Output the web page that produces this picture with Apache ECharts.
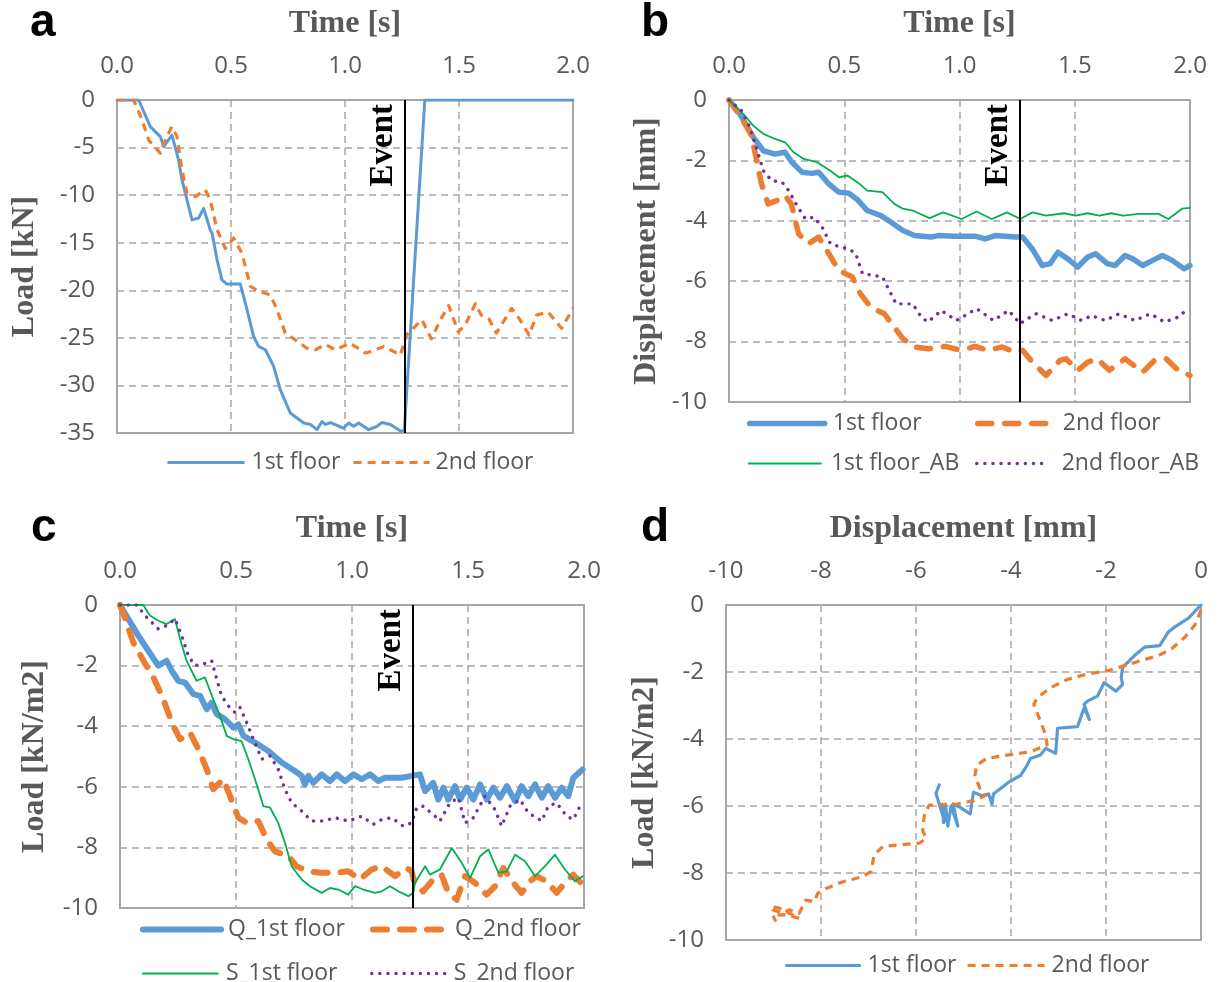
<!DOCTYPE html>
<html><head><meta charset="utf-8">
<script src="https://cdn.jsdelivr.net/npm/echarts/dist/echarts.min.js"></script>
<style>html,body{margin:0;padding:0;background:#fff}#c{width:1218px;height:982px}</style>
</head><body><div id="c"></div>
<script>
// ---------- Panel a: Load [kN] vs time ----------
const aT1 = [0,0.095,0.146,0.19,0.205,0.241,0.27,0.285,0.329,0.358,0.38,0.409,0.417,0.439,0.46,0.482,0.541,0.563,0.599,0.621,0.651,0.687,0.716,0.76,0.819,0.848,0.877,0.899,0.914,0.936,0.994,1.016,1.038,1.06,1.104,1.14,1.162,1.199,1.243,1.26,1.35,2.0];
const aL1 = [0,0,-2.8,-3.85,-4.9,-3.7,-6.3,-8.4,-12.6,-12.4,-11.4,-13.65,-14,-16.8,-18.9,-19.35,-19.35,-21.35,-24.85,-25.9,-26.25,-28,-30.45,-32.9,-33.95,-34.1,-34.65,-33.8,-34.1,-33.9,-34.5,-33.95,-34.3,-33.95,-34.65,-34.3,-33.9,-34.1,-34.8,-34.8,0,0];
const aT2 = [0,0.073,0.11,0.139,0.19,0.205,0.241,0.263,0.285,0.307,0.344,0.387,0.409,0.439,0.475,0.512,0.548,0.585,0.621,0.673,0.702,0.738,0.782,0.833,0.87,0.914,0.958,1.023,1.089,1.118,1.17,1.243,1.27,1.337,1.379,1.421,1.455,1.497,1.53,1.572,1.597,1.631,1.664,1.731,1.765,1.807,1.841,1.891,1.95,2.0];
const aL2 = [0,0,-2.1,-4.2,-5.6,-4.55,-2.8,-3.85,-7.35,-9.8,-10.15,-9.45,-10.5,-13.65,-15.6,-14.5,-16.1,-19.6,-20.1,-20.5,-22.05,-24.5,-25.2,-26.1,-26.25,-25.7,-26.25,-25.55,-26.6,-26.4,-25.9,-26.8,-24.7,-23.1,-25.1,-23.0,-21.6,-24.4,-23.5,-21.4,-22.6,-23.0,-24.5,-21.9,-23.0,-24.7,-22.6,-22.3,-24.0,-21.9];

// ---------- Panel b: Displacement [mm] vs time ----------
const bT1 = [0,0.047,0.105,0.149,0.2,0.243,0.273,0.316,0.36,0.389,0.433,0.476,0.52,0.557,0.6,0.659,0.703,0.754,0.805,0.878,0.907,0.98,1.067,1.111,1.155,1.242,1.274,1.316,1.359,1.393,1.427,1.47,1.513,1.556,1.59,1.641,1.675,1.718,1.752,1.795,1.838,1.88,1.923,1.974,2.0];
const bD1 = [0,-0.46,-1.23,-1.68,-1.79,-1.73,-2.06,-2.39,-2.43,-2.39,-2.78,-3.05,-3.09,-3.3,-3.66,-3.83,-4.05,-4.32,-4.49,-4.54,-4.49,-4.51,-4.51,-4.6,-4.49,-4.54,-4.54,-4.93,-5.48,-5.42,-5.04,-5.26,-5.53,-5.2,-5.09,-5.42,-5.48,-5.15,-5.26,-5.48,-5.31,-5.15,-5.31,-5.59,-5.48];
const bT2 = [0,0.061,0.098,0.12,0.141,0.17,0.207,0.243,0.27,0.302,0.345,0.389,0.433,0.476,0.535,0.57,0.615,0.674,0.717,0.754,0.805,0.863,0.936,1.009,1.067,1.125,1.184,1.242,1.274,1.316,1.376,1.436,1.462,1.513,1.556,1.598,1.65,1.718,1.795,1.846,1.897,1.949,2.0];
const bD2 = [0,-0.68,-1.18,-2.0,-2.78,-3.44,-3.33,-3.16,-3.44,-4.43,-4.76,-4.54,-5.09,-5.64,-5.86,-6.41,-6.86,-7.08,-7.52,-7.9,-8.18,-8.24,-8.16,-8.29,-8.16,-8.29,-8.18,-8.35,-8.29,-8.68,-9.12,-8.62,-8.57,-8.95,-8.68,-8.57,-8.95,-8.57,-9.01,-8.62,-8.57,-8.95,-9.12];
const bT3 = [0,0.069,0.105,0.149,0.2,0.243,0.28,0.324,0.382,0.44,0.477,0.513,0.557,0.6,0.666,0.717,0.754,0.797,0.87,0.929,1.009,1.074,1.14,1.206,1.264,1.316,1.376,1.453,1.504,1.556,1.607,1.658,1.709,1.778,1.863,1.906,1.966,2.0];
const bD3 = [0,-0.52,-0.85,-1.12,-1.29,-1.4,-1.73,-1.95,-2.06,-2.34,-2.56,-2.5,-2.72,-3.0,-3.05,-3.44,-3.6,-3.66,-3.91,-3.72,-3.94,-3.69,-3.94,-3.72,-3.94,-3.72,-3.83,-3.75,-3.83,-3.75,-3.83,-3.75,-3.83,-3.77,-3.77,-3.94,-3.6,-3.57];
const bT4 = [0,0.054,0.09,0.12,0.149,0.185,0.23,0.259,0.295,0.332,0.368,0.404,0.44,0.484,0.52,0.55,0.579,0.63,0.666,0.695,0.725,0.797,0.834,0.863,0.921,0.987,1.074,1.147,1.213,1.264,1.282,1.333,1.402,1.47,1.53,1.573,1.632,1.692,1.76,1.829,1.889,1.949,1.991];
const bD4 = [0,-0.35,-0.9,-1.62,-2.34,-2.67,-2.72,-3.0,-3.5,-3.94,-3.88,-4.21,-4.76,-4.87,-4.93,-5.09,-5.75,-5.81,-5.86,-6.3,-6.75,-6.75,-7.19,-7.35,-6.97,-7.3,-6.91,-7.3,-6.97,-7.41,-7.3,-7.08,-7.3,-7.08,-7.3,-7.14,-7.3,-7.08,-7.3,-7.08,-7.35,-7.19,-6.91];

// ---------- Panel c: Load [kN/m2] vs time ----------
const cT1 = [0,0.036,0.079,0.122,0.165,0.201,0.223,0.251,0.28,0.316,0.345,0.374,0.395,0.417,0.453,0.489,0.51,0.532,0.582,0.639,0.697,0.754,0.783,0.797,0.812,0.833,0.869,0.905,0.934,0.97,1.006,1.042,1.078,1.114,1.142,1.214,1.257,1.293,1.315,1.35,1.372,1.394,1.415,1.444,1.466,1.494,1.523,1.552,1.581,1.609,1.638,1.667,1.703,1.731,1.76,1.789,1.818,1.846,1.875,1.904,1.932,1.954,1.994];
const cQ1 = [0,-0.46,-1.01,-1.51,-2.0,-1.84,-2.17,-2.5,-2.56,-2.94,-3.0,-3.44,-3.22,-3.6,-3.77,-4.05,-3.94,-4.32,-4.54,-4.82,-5.2,-5.48,-5.64,-5.92,-5.64,-5.87,-5.59,-5.81,-5.59,-5.81,-5.59,-5.75,-5.59,-5.81,-5.7,-5.7,-5.64,-5.59,-6.14,-5.87,-6.42,-6.03,-6.42,-5.98,-6.42,-6.03,-6.42,-5.92,-6.42,-6.03,-6.36,-5.98,-6.47,-5.98,-6.31,-5.92,-6.36,-5.98,-6.36,-6.03,-6.31,-5.7,-5.43];
const cT2 = [0,0.022,0.057,0.101,0.144,0.187,0.223,0.259,0.302,0.338,0.374,0.402,0.445,0.474,0.51,0.546,0.596,0.632,0.668,0.726,0.761,0.812,0.869,0.934,0.984,1.034,1.085,1.128,1.185,1.236,1.257,1.272,1.307,1.343,1.386,1.415,1.451,1.487,1.53,1.58,1.616,1.652,1.695,1.731,1.767,1.796,1.839,1.882,1.918,1.954,1.994];
const cQ2 = [0,-0.44,-1.23,-1.84,-2.39,-3.11,-3.88,-4.43,-4.21,-4.76,-5.42,-6.08,-5.75,-6.3,-7.02,-7.19,-7.13,-7.74,-8.13,-8.29,-8.62,-8.79,-8.84,-8.84,-8.79,-9.06,-8.73,-8.62,-8.95,-8.68,-8.79,-9.23,-9.45,-9.12,-8.9,-9.5,-9.73,-8.95,-9.17,-9.56,-9.29,-8.68,-9.17,-9.5,-9.12,-8.95,-9.12,-9.5,-9.17,-8.9,-9.23];
const cT3 = [0,0.1,0.129,0.165,0.201,0.237,0.259,0.287,0.33,0.366,0.402,0.431,0.46,0.489,0.524,0.553,0.582,0.618,0.647,0.682,0.711,0.74,0.783,0.819,0.869,0.905,0.941,0.984,1.013,1.049,1.099,1.128,1.164,1.2,1.243,1.264,1.272,1.315,1.336,1.379,1.43,1.473,1.509,1.552,1.588,1.631,1.667,1.703,1.746,1.789,1.832,1.875,1.918,1.961,1.994];
const cS1 = [0,0,-0.35,-0.52,-0.63,-0.46,-1.12,-1.84,-2.5,-2.39,-3.11,-3.66,-4.32,-4.43,-4.49,-5.09,-5.75,-6.64,-6.69,-7.19,-7.85,-8.62,-9.06,-9.28,-9.5,-9.34,-9.39,-9.56,-9.28,-9.39,-9.5,-9.45,-9.28,-9.45,-9.61,-9.5,-9.17,-8.62,-8.9,-8.73,-8.02,-8.51,-9.01,-8.29,-8.07,-8.84,-8.79,-8.24,-8.46,-8.95,-8.62,-8.24,-8.73,-9.12,-8.95];
const cT4 = [0,0.072,0.108,0.165,0.201,0.237,0.266,0.295,0.323,0.359,0.395,0.417,0.438,0.467,0.496,0.517,0.546,0.575,0.611,0.647,0.682,0.711,0.74,0.783,0.826,0.876,0.927,0.984,1.042,1.092,1.128,1.171,1.221,1.257,1.279,1.307,1.358,1.379,1.422,1.459,1.487,1.523,1.573,1.616,1.645,1.681,1.724,1.76,1.818,1.846,1.882,1.925,1.954,1.99];
const cS2 = [0,0,-0.35,-0.79,-0.68,-0.46,-1.01,-1.68,-2.0,-1.95,-1.84,-2.45,-3.0,-3.33,-3.55,-3.38,-3.88,-4.43,-5.09,-4.98,-5.42,-6.08,-6.53,-6.8,-7.13,-7.13,-7.02,-7.13,-6.97,-7.24,-7.08,-7.02,-7.3,-7.19,-6.69,-6.64,-6.97,-7.13,-6.53,-6.36,-7.19,-7.02,-6.31,-6.75,-7.3,-6.64,-6.42,-6.86,-7.13,-6.64,-6.53,-6.97,-7.08,-6.53];

// ---------- Panel d: Load [kN/m2] vs displacement [mm] ----------
const dX1 = [0,-0.27,-0.55,-0.69,-0.87,-1.19,-1.4,-1.65,-1.68,-1.65,-1.79,-2.04,-2.18,-2.39,-2.46,-2.35,-2.46,-2.6,-3.02,-3.06,-3.27,-3.38,-3.59,-3.66,-3.8,-4.05,-4.37,-4.4,-4.47,-4.61,-4.79,-4.86,-5.07,-5.22,-5.12,-5.26,-5.33,-5.38,-5.42,-5.45,-5.4,-5.58,-5.51];
const dY1 = [0,-0.4,-0.65,-0.81,-1.21,-1.26,-1.51,-1.86,-2.17,-2.37,-2.57,-2.32,-2.72,-2.87,-2.97,-3.42,-3.07,-3.63,-3.68,-4.43,-4.28,-4.48,-4.58,-4.78,-5.09,-5.29,-5.64,-5.94,-5.64,-5.69,-5.59,-6.24,-6.04,-5.94,-6.6,-6.0,-6.6,-5.95,-6.5,-5.95,-6.45,-5.62,-5.37];
const dX2 = [0,-0.13,-0.34,-0.62,-0.9,-1.26,-1.61,-1.96,-2.39,-2.81,-3.17,-3.45,-3.52,-3.38,-3.27,-3.24,-3.59,-4.08,-4.51,-4.72,-4.76,-4.65,-4.54,-4.79,-5.14,-5.5,-5.72,-5.82,-5.86,-5.79,-5.93,-6.35,-6.7,-6.88,-6.95,-7.12,-7.54,-7.89,-8.07,-8.14,-8.32,-8.46,-8.67,-8.81,-9.02,-9.05,-8.88,-8.74,-8.46,-8.74,-9.02,-8.95];
const dY2 = [-0.15,-0.6,-0.96,-1.31,-1.51,-1.66,-1.81,-1.96,-2.06,-2.22,-2.47,-2.77,-2.97,-3.47,-3.88,-4.18,-4.38,-4.48,-4.58,-4.78,-5.09,-5.49,-5.69,-5.84,-5.94,-5.97,-5.97,-6.22,-6.72,-6.97,-7.11,-7.16,-7.21,-7.46,-7.96,-8.11,-8.26,-8.46,-8.61,-8.86,-8.81,-9.2,-9.1,-9.2,-9.1,-9.0,-9.05,-9.15,-9.35,-9.25,-9.25,-9.45];

const eventTime = 1.265;

const BLUE = '#5B9BD5', ORANGE = '#ED7D31', GREEN = '#00B050', PURPLE = '#7030A0';
const GRAY = '#595959';
const TICK = {fontFamily: 'Open Sans', fontSize: 24, color: GRAY};
const NAME = {fontFamily: 'Liberation Serif', fontWeight: 'bold', fontSize: 32, color: GRAY};
const SPLIT = {show: true, lineStyle: {color: '#a6a6a6', width: 1.5, type: [7, 5]}};

function zip(xs, ys) { return xs.map((x, i) => [x, ys[i]]); }

const grids = [
  {left: 117, top: 100, width: 456, height: 333},
  {left: 729, top: 100, width: 461, height: 302},
  {left: 120, top: 605, width: 464, height: 303},
  {left: 726, top: 605, width: 475, height: 335}
].map(g => Object.assign(g, {show: true, borderColor: '#a6a6a6', borderWidth: 2, containLabel: false}));

function xAxisTime(gi) {
  return {type: 'value', gridIndex: gi, position: 'top', min: 0, max: 2, interval: 0.5,
    name: 'Time [s]', nameLocation: 'middle', nameGap: 60, nameTextStyle: NAME,
    axisLine: {show: false}, axisTick: {show: false},
    axisLabel: Object.assign({margin: 22, formatter: v => v.toFixed(1)}, TICK), splitLine: SPLIT};
}
function yAxisVal(gi, min, interval, name, gap) {
  return {type: 'value', gridIndex: gi, min: min, max: 0, interval: interval,
    name: name, nameLocation: 'middle', nameGap: gap, nameTextStyle: NAME,
    axisLine: {show: false}, axisTick: {show: false},
    axisLabel: Object.assign({margin: 22}, TICK), splitLine: SPLIT};
}

const eventMark = {
  silent: true, symbol: ['none', 'none'], animation: false,
  lineStyle: {color: '#000', width: 2, type: 'solid'},
  label: {show: true, formatter: 'Event', position: 'insideEndTop', distance: 4,
    fontFamily: 'Liberation Serif', fontWeight: 'bold', fontSize: 33, color: '#000'},
  emphasis: {disabled: true},
  data: [{xAxis: eventTime}]
};

function line(name, gi, data, color, width, type, extra) {
  return {name: name, type: 'line', xAxisIndex: gi, yAxisIndex: gi, data: data,
    symbol: 'none', showSymbol: false, animation: false,
    lineStyle: Object.assign({color: color, width: width, type: type, cap: 'round', join: 'round'}, extra || {}),
    itemStyle: {color: color}, emphasis: {disabled: true}};
}

const DASH_S = [8, 6], DASH_L = [14, 13], DOT = [0.1, 8];
const series = [];
series.push(Object.assign(line('a|1st floor', 0, zip(aT1, aL1), BLUE, 3, 'solid'), {markLine: eventMark}));
series.push(line('a|2nd floor', 0, zip(aT2, aL2), ORANGE, 3.2, DASH_S, {cap: 'butt'}));
series.push(Object.assign(line('b|1st floor', 1, zip(bT1, bD1), BLUE, 5.5, 'solid'), {markLine: eventMark}));
series.push(line('b|2nd floor', 1, zip(bT2, bD2), ORANGE, 5.5, DASH_L));
series.push(line('b|1st floor_AB', 1, zip(bT3, bD3), GREEN, 1.8, 'solid'));
series.push(line('b|2nd floor_AB', 1, zip(bT4, bD4), PURPLE, 3.4, DOT));
series.push(Object.assign(line('c|Q_1st floor', 2, zip(cT1, cQ1), BLUE, 6, 'solid'), {markLine: eventMark}));
series.push(line('c|Q_2nd floor', 2, zip(cT2, cQ2), ORANGE, 6, DASH_L));
series.push(line('c|S_1st floor', 2, zip(cT3, cS1), GREEN, 1.8, 'solid'));
series.push(line('c|S_2nd floor', 2, zip(cT4, cS2), PURPLE, 3.4, DOT));
series.push(line('d|1st floor', 3, zip(dX1, dY1), BLUE, 3.2, 'solid'));
series.push(line('d|2nd floor', 3, zip(dX2, dY2), ORANGE, 3.2, DASH_S, {cap: 'butt'}));

// one legend component per entry: [series name, icon left, row top, icon width, text padding]
const legendItems = [
  ['a|1st floor', 167, 451, 75, 3], ['a|2nd floor', 352, 451, 76, 1],
  ['b|1st floor', 747, 412, 75, 3], ['b|2nd floor', 975, 412, 70, 10],
  ['b|1st floor_AB', 748, 452, 72, 5], ['b|2nd floor_AB', 975, 452, 70, 10],
  ['c|Q_1st floor', 140, 918, 78, 2], ['c|Q_2nd floor', 370, 918, 72, 5],
  ['c|S_1st floor', 142, 962, 75, 3], ['c|S_2nd floor', 370, 962, 73, 4],
  ['d|1st floor', 785, 954, 73, 3], ['d|2nd floor', 966, 954, 77, 2]
];
const legends = legendItems.map(([name, left, top, w, pad]) => ({
  data: [name], left: left, top: top, orient: 'horizontal', itemWidth: w, itemHeight: 14,
  selectedMode: false, padding: 0,
  textStyle: {fontFamily: 'Open Sans', fontSize: 23, color: GRAY, padding: [0, 0, 0, pad]},
  itemStyle: {opacity: 0}, lineStyle: {width: 'inherit', type: 'inherit', cap: 'inherit'},
  formatter: n => n.split('|')[1]
}));

const LETTER = {fontFamily: 'Liberation Sans', fontWeight: 'bold', fontSize: 46, color: '#000'};
const option = {
  backgroundColor: '#fff',
  animation: false,
  title: [
    {text: 'a', left: 30, top: 0, padding: 0, textStyle: LETTER},
    {text: 'b', left: 641, top: 0, padding: 0, textStyle: LETTER},
    {text: 'c', left: 31, top: 505, padding: 0, textStyle: LETTER},
    {text: 'd', left: 641, top: 505, padding: 0, textStyle: LETTER}
  ],
  grid: grids,
  xAxis: [
    xAxisTime(0), xAxisTime(1), xAxisTime(2),
    {type: 'value', gridIndex: 3, position: 'top', min: -10, max: 0, interval: 2,
      name: 'Displacement [mm]', nameLocation: 'middle', nameGap: 60, nameTextStyle: NAME,
      axisLine: {show: false}, axisTick: {show: false},
      axisLabel: Object.assign({margin: 22}, TICK), splitLine: SPLIT}
  ],
  yAxis: [
    yAxisVal(0, -35, 5, 'Load [kN]', 76),
    yAxisVal(1, -10, 2, 'Displacement [mm]', 66),
    yAxisVal(2, -10, 2, 'Load [kN/m2]', 69),
    yAxisVal(3, -10, 2, 'Load [kN/m2]', 65)
  ],
  legend: legends,
  series: series
};

const chart = echarts.init(document.getElementById('c'));
chart.setOption(option);
</script></body></html>
